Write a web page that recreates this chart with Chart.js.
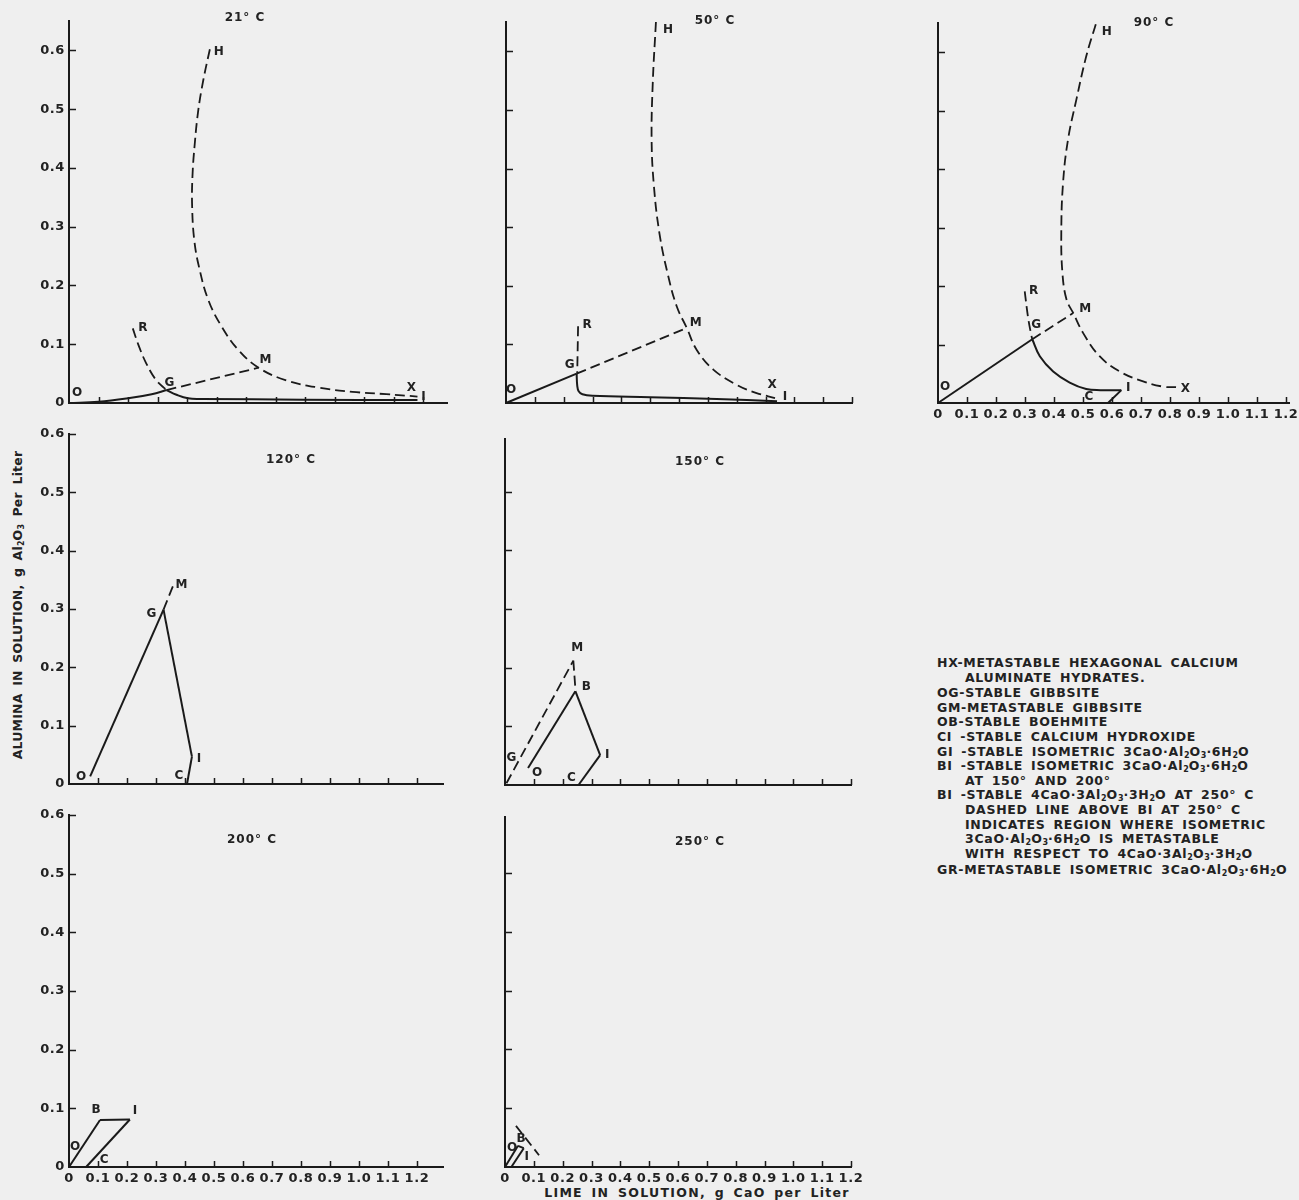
<!DOCTYPE html>
<html>
<head>
<meta charset="utf-8">
<script src="https://cdn.jsdelivr.net/npm/chart.js@4.4.1/dist/chart.umd.min.js"></script>
<style>
  html, body { margin: 0; padding: 0; background: #efefef; }
  body { width: 1299px; height: 1200px; position: relative; overflow: hidden;
         font-family: "DejaVu Sans", sans-serif; color: #222; }
  canvas { position: absolute; }
  .txt { position: absolute; white-space: nowrap; font-size: 12.5px; line-height: 14px; font-weight: bold;
         letter-spacing: 0.7px; word-spacing: 3px; }
  .txt sub { font-size: 8px; vertical-align: -2px; line-height: 0; letter-spacing: 0; }
  #ytitle { left: 18px; top: 605px; transform: translate(-50%, -50%) rotate(-90deg); letter-spacing: 0.2px; }
  #xtitle { left: 697px; top: 1193px; transform: translate(-50%, -50%); letter-spacing: 1.3px; }
</style>
</head>
<body>

<div id="ytitle" class="txt">ALUMINA IN SOLUTION, g Al<sub>2</sub>O<sub>3</sub> Per Liter</div>
<div id="xtitle" class="txt">LIME IN SOLUTION, g CaO per Liter</div>

<div class="txt" style="left:937px;top:656px">HX-METASTABLE HEXAGONAL CALCIUM</div>
<div class="txt" style="left:965px;top:671px">ALUMINATE HYDRATES.</div>
<div class="txt" style="left:937px;top:686px">OG-STABLE GIBBSITE</div>
<div class="txt" style="left:937px;top:701px">GM-METASTABLE GIBBSITE</div>
<div class="txt" style="left:937px;top:715px">OB-STABLE BOEHMITE</div>
<div class="txt" style="left:937px;top:730px">CI -STABLE CALCIUM HYDROXIDE</div>
<div class="txt" style="left:937px;top:745px">GI -STABLE ISOMETRIC 3CaO·Al<sub>2</sub>O<sub>3</sub>·6H<sub>2</sub>O</div>
<div class="txt" style="left:937px;top:759px">BI -STABLE ISOMETRIC 3CaO·Al<sub>2</sub>O<sub>3</sub>·6H<sub>2</sub>O</div>
<div class="txt" style="left:965px;top:774px">AT 150° AND 200°</div>
<div class="txt" style="left:937px;top:788px">BI -STABLE 4CaO·3Al<sub>2</sub>O<sub>3</sub>·3H<sub>2</sub>O AT 250° C</div>
<div class="txt" style="left:965px;top:803px">DASHED LINE ABOVE BI AT 250° C</div>
<div class="txt" style="left:965px;top:818px">INDICATES REGION WHERE ISOMETRIC</div>
<div class="txt" style="left:965px;top:832px">3CaO·Al<sub>2</sub>O<sub>3</sub>·6H<sub>2</sub>O IS METASTABLE</div>
<div class="txt" style="left:965px;top:847px">WITH RESPECT TO 4CaO·3Al<sub>2</sub>O<sub>3</sub>·3H<sub>2</sub>O</div>
<div class="txt" style="left:937px;top:863px">GR-METASTABLE ISOMETRIC 3CaO·Al<sub>2</sub>O<sub>3</sub>·6H<sub>2</sub>O</div>

<script>
// ---- Solubility curves, [CaO g/L, Al2O3 g/L] ----
// 21 °C
const t21_OG = [[0,0],[0.1,0.002],[0.2,0.008],[0.28,0.015],[0.33,0.022]];
const t21_GI = [[0.33,0.022],[0.364,0.014],[0.403,0.008],[0.449,0.007],[0.79,0.0057],[1.18,0.005]];
const t21_RG = [[0.216,0.127],[0.235,0.099],[0.261,0.068],[0.295,0.039],[0.33,0.022]];
const t21_GM = [[0.33,0.022],[0.642,0.060]];
const t21_HX = [[0.477,0.602],[0.455,0.55],[0.438,0.499],[0.426,0.442],[0.418,0.385],[0.417,0.334],
                [0.424,0.278],[0.44,0.232],[0.472,0.175],[0.517,0.13],[0.574,0.09],[0.642,0.06],
                [0.733,0.039],[0.847,0.026],[0.96,0.019],[1.074,0.015],[1.18,0.011]];
// 50 °C
const t50_OG = [[0,0],[0.245,0.05]];
const t50_GI = [[0.245,0.05],[0.247,0.03],[0.252,0.02],[0.265,0.015],[0.3,0.0125],[0.5,0.01],[0.73,0.007],[0.94,0.003]];
const t50_RG = [[0.25,0.131],[0.247,0.05]];
const t50_GM = [[0.245,0.05],[0.627,0.128]];
const t50_HX = [[0.52,0.65],[0.509,0.546],[0.505,0.449],[0.513,0.37],[0.532,0.29],[0.56,0.222],
                [0.592,0.165],[0.627,0.128],[0.661,0.091],[0.719,0.057],[0.80,0.031],[0.869,0.017],[0.933,0.0085]];
// 90 °C
const t90_OG = [[0,0],[0.325,0.109]];
const t90_GI = [[0.325,0.109],[0.351,0.080],[0.397,0.054],[0.454,0.035],[0.511,0.024],[0.56,0.022],[0.632,0.022]];
const t90_CI = [[0.586,0],[0.632,0.022]];
const t90_RG = [[0.299,0.191],[0.31,0.148],[0.32,0.12],[0.325,0.109]];
const t90_GM = [[0.325,0.109],[0.466,0.154]];
const t90_HX = [[0.544,0.648],[0.511,0.593],[0.477,0.519],[0.448,0.45],[0.431,0.376],[0.425,0.291],
                [0.429,0.222],[0.443,0.177],[0.466,0.154],[0.5,0.12],[0.557,0.08],[0.626,0.054],
                [0.707,0.037],[0.776,0.028],[0.822,0.027]];
// 120 °C
const t120_OG = [[0.073,0.013],[0.326,0.299]];
const t120_GI = [[0.326,0.299],[0.424,0.047]];
const t120_CI = [[0.407,0],[0.424,0.047]];
const t120_GM = [[0.326,0.299],[0.36,0.341]];
// 150 °C
const t150_OB = [[0.08,0.029],[0.244,0.160]];
const t150_BI = [[0.244,0.160],[0.33,0.051]];
const t150_CI = [[0.255,0],[0.33,0.051]];
const t150_GM = [[0.005,0.003],[0.237,0.212]];
const t150_MB = [[0.237,0.212],[0.244,0.165]];
// 200 °C
const t200_OB = [[0,0],[0.107,0.080]];
const t200_BI = [[0.107,0.080],[0.21,0.081]];
const t200_CI = [[0.059,0],[0.21,0.081]];
// 250 °C
const t250_OB = [[0,0],[0.045,0.036]];
const t250_BI = [[0.045,0.036],[0.065,0.032]];
const t250_CI = [[0.022,0],[0.065,0.032]];
const t250_MB = [[0.038,0.07],[0.118,0.02]];

// ---- drawing ----
const INK = '#1a1a1a';
const TXT = '#222';
const FONT = '"DejaVu Sans", sans-serif';
const PAD_L = 46, PAD_R = 16, PAD_T = 30, PAD_B = 26;

const fmt = v => (Math.abs(v) < 1e-9 ? '0' : v.toFixed(1));

// panel layout; curves: [points, dashed, smooth]; marks: [text, point, dx, dy]
const panels = [
  { title: '21° C', left: 69, bottom: 403, ux: 295, uy: 587, xmax: 1.28, ymax: 0.65,
    xLabels: false, yLabels: true, titleAt: [176, -3],
    curves: [[t21_OG,false,true],[t21_GI,false,true],[t21_RG,true,true],[t21_GM,true,false],[t21_HX,true,true]],
    marks: [['H',t21_HX[0],9,3],['R',t21_RG[0],10,0],['G',t21_GM[0],3,-7],['M',t21_GM[1],7,-8],
            ['O',t21_OG[0],8,-10],['X',t21_HX[t21_HX.length-1],-6,-9],['I',t21_GI[t21_GI.length-1],6,-3]] },
  { title: '50° C', left: 506, bottom: 403, ux: 288, uy: 586, xmax: 1.2, ymax: 0.65,
    xLabels: false, yLabels: false, titleAt: [209, -1],
    curves: [[t50_OG,false,false],[t50_GI,false,true],[t50_RG,true,false],[t50_GM,true,false],[t50_HX,true,true]],
    marks: [['H',t50_HX[0],12,8],['R',t50_RG[0],9,-1],['G',t50_GM[0],-7,-9],['M',t50_GM[1],9,-5],
            ['O',t50_OG[0],5,-13],['X',t50_HX[t50_HX.length-1],-3,-13],['I',t50_GI[t50_GI.length-1],8,-4]] },
  { title: '90° C', left: 938, bottom: 403, ux: 290, uy: 585, xmax: 1.21, ymax: 0.65,
    xLabels: true, yLabels: false, titleAt: [216, 0],
    curves: [[t90_OG,false,false],[t90_GI,false,true],[t90_CI,false,false],[t90_RG,true,true],[t90_GM,true,false],[t90_HX,true,true]],
    marks: [['H',t90_HX[0],11,8],['R',t90_RG[0],9,0],['G',t90_GM[0],4,-14],['M',t90_GM[1],12,-4],
            ['O',t90_OG[0],7,-16],['C',t90_CI[0],-19,-6],['I',t90_CI[1],7,-2],['X',t90_HX[t90_HX.length-1],9,2]] },
  { title: '120° C', left: 69, bottom: 784, ux: 290, uy: 583, xmax: 1.29, ymax: 0.6,
    xLabels: false, yLabels: true, titleAt: [222, 26],
    curves: [[t120_OG,false,false],[t120_GI,false,false],[t120_CI,false,false],[t120_GM,true,false]],
    marks: [['O',t120_OG[0],-9,0],['G',t120_GI[0],-12,4],['M',t120_GM[1],8,0],['I',t120_CI[1],7,2],['C',t120_CI[0],-8,-8]] },
  { title: '150° C', left: 505, bottom: 785, ux: 288, uy: 587, xmax: 1.2, ymax: 0.59,
    xLabels: false, yLabels: false, titleAt: [195, 23],
    curves: [[t150_OB,false,false],[t150_BI,false,false],[t150_CI,false,false],[t150_GM,true,false],[t150_MB,true,false]],
    marks: [['M',t150_GM[1],4,-13],['B',t150_OB[1],11,-4],['I',t150_CI[1],7,0],['C',t150_CI[0],-7,-7],
            ['O',t150_OB[0],9,5],['G',t150_GM[0],5,-25]] },
  { title: '200° C', left: 69, bottom: 1167, ux: 290, uy: 586, xmax: 1.29, ymax: 0.6,
    xLabels: true, yLabels: true, titleAt: [183, 25],
    curves: [[t200_OB,false,false],[t200_BI,false,false],[t200_CI,false,false]],
    marks: [['O',t200_OB[0],6,-20],['B',t200_OB[1],-4,-10],['I',t200_CI[1],5,-9],['C',t200_CI[0],18,-7]] },
  { title: '250° C', left: 505, bottom: 1167, ux: 288, uy: 588, xmax: 1.2, ymax: 0.595,
    xLabels: true, yLabels: false, titleAt: [195, 25],
    curves: [[t250_OB,false,false],[t250_BI,false,false],[t250_CI,false,false],[t250_MB,true,false]],
    marks: [['O',t250_OB[0],7,-19],['B',t250_OB[1],3,-7],['I',t250_CI[1],3,9]] }
];

const inwardTicks = {
  id: 'inwardTicks',
  afterDraw(chart) {
    const { ctx, chartArea: a, scales: { x, y } } = chart;
    ctx.save();
    ctx.strokeStyle = INK; ctx.lineWidth = 1.5;
    ctx.beginPath();
    x.ticks.forEach(t => { if (t.value <= 1e-9) return; const px = Math.round(x.getPixelForValue(t.value)) + 0.5;
      ctx.moveTo(px, a.bottom); ctx.lineTo(px, a.bottom - 6); });
    y.ticks.forEach(t => { if (t.value <= 1e-9) return; const py = Math.round(y.getPixelForValue(t.value)) + 0.5;
      ctx.moveTo(a.left, py); ctx.lineTo(a.left + 7, py); });
    ctx.stroke();
    ctx.restore();
  }
};

function dataset([pts, dashed, smooth]) {
  return {
    data: pts.map(([x, y]) => ({ x, y })),
    showLine: true, fill: false, clip: false,
    borderColor: INK, borderWidth: dashed ? 1.8 : 2,
    borderDash: dashed ? [10, 5] : [],
    borderCapStyle: 'butt', borderJoinStyle: 'round',
    pointRadius: 0, pointHoverRadius: 0,
    tension: smooth ? 0.4 : 0
  };
}

function scale(max, labels, fixSize) {
  return {
    type: 'linear', min: 0, max,
    grid: { display: false, drawTicks: false },
    border: { display: true, color: INK, width: 2 },
    ticks: { display: labels, stepSize: 0.1, includeBounds: false, autoSkip: false, maxRotation: 0,
             padding: 4, color: TXT, font: { family: FONT, size: 13, weight: 'bold' }, callback: v => fmt(v) },
    afterFit: fixSize
  };
}

panels.forEach(p => {
  const plotW = p.xmax * p.ux, plotH = p.ymax * p.uy;
  const W = Math.round(PAD_L + plotW + PAD_R), H = Math.round(PAD_T + plotH + PAD_B);
  const cv = document.createElement('canvas');
  cv.width = W; cv.height = H;
  cv.style.left = (p.left - PAD_L) + 'px';
  cv.style.top = (p.bottom - (H - PAD_B)) + 'px';
  document.body.appendChild(cv);

  const annotate = {
    id: 'annotate',
    beforeDraw(chart) { chart.ctx.letterSpacing = '0.6px'; },
    afterDraw(chart) {
      const { ctx, chartArea: a, scales: { x, y } } = chart;
      ctx.save();
      ctx.fillStyle = TXT;
      ctx.textAlign = 'center'; ctx.textBaseline = 'middle';
      ctx.font = 'bold 12px ' + FONT;
      ctx.letterSpacing = '1px';
      ctx.fillText(p.title, a.left + p.titleAt[0], a.top + p.titleAt[1]);
      ctx.letterSpacing = '0px';
      p.marks.forEach(([t, pt, dx, dy]) => {
        ctx.fillText(t, x.getPixelForValue(pt[0]) + dx, y.getPixelForValue(pt[1]) + dy);
      });
      ctx.restore();
    }
  };

  new Chart(cv, {
    type: 'scatter',
    data: { datasets: p.curves.map(dataset) },
    options: {
      responsive: false, animation: false, devicePixelRatio: 1, events: [],
      layout: { padding: { left: 0, right: PAD_R, top: PAD_T, bottom: 0 } },
      plugins: { legend: { display: false }, tooltip: { enabled: false } },
      scales: {
        x: scale(p.xmax, p.xLabels, s => { s.height = PAD_B; }),
        y: scale(p.ymax, p.yLabels, s => { s.width = PAD_L; })
      }
    },
    plugins: [inwardTicks, annotate]
  });
});
</script>
</body>
</html>
